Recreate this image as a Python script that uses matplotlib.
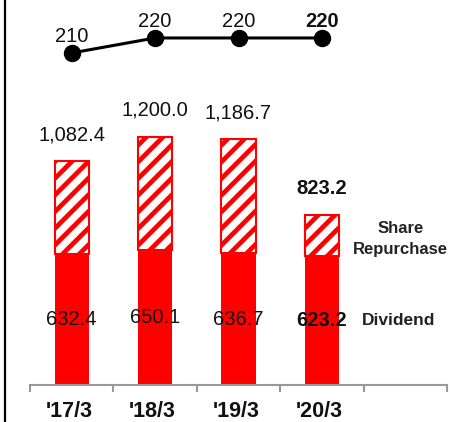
import matplotlib.pyplot as plt
import numpy as np

plt.rcParams['font.family'] = ['Liberation Sans', 'DejaVu Sans']
plt.rcParams['hatch.linewidth'] = 3.4
plt.rcParams['hatch.color'] = '#ff0000'

years = ["'17/3", "'18/3", "'19/3", "'20/3"]
dividend = [632.4, 650.1, 636.7, 623.2]
total = [1082.4, 1200.0, 1186.7, 823.2]
per_share = [210, 220, 220, 220]

repurchase = [t - d for t, d in zip(total, dividend)]
x = np.arange(len(years))
red = '#ff0000'
ink = '#111111'

fig = plt.figure(figsize=(4.51, 4.22), dpi=100)
ax = fig.add_axes([30 / 451, 37 / 422, 417 / 451, 385 / 422])

ax.bar(x, dividend, width=0.41, color=red, edgecolor=red, linewidth=0)
ax.bar(x, repurchase, width=0.41, bottom=dividend, color='white',
       edgecolor=red, hatch='//', linewidth=1.5)

ax.set_xlim(-0.5, 4.5)
ax.set_ylim(0, 1860)

# value labels
for i in range(len(years)):
    bold = 'bold' if i == len(years) - 1 else 'normal'
    ax.annotate(f'{total[i]:,.1f}', (x[i], total[i]), xytext=(0, 19),
                textcoords='offset points', ha='center', va='center',
                fontsize=14.5, color=ink, fontweight=bold)
    ax.text(x[i], dividend[i] / 2, f'{dividend[i]:.1f}', ha='center',
            va='center', fontsize=14.5, color=ink, fontweight=bold)

ax.text(3.94, dividend[3] + repurchase[3] * 0.4, 'Share\nRepurchase',
        ha='center', va='center', fontsize=12, fontweight='bold',
        color='#222222', linespacing=1.5)
ax.text(3.92, dividend[3] / 2, 'Dividend', ha='center', va='center',
        fontsize=12.5, fontweight='bold', color='#222222')

# category axis with separators
for s in ['top', 'right', 'left']:
    ax.spines[s].set_visible(False)
ax.spines['bottom'].set_color('#999999')
ax.spines['bottom'].set_linewidth(1.5)
ax.set_yticks([])
ax.set_xticks(np.arange(-0.5, 5, 1))
ax.set_xticklabels([])
ax.tick_params(axis='x', length=5, width=1.5, color='#999999', direction='out')
for i, lab in enumerate(years):
    ax.annotate(lab, (x[i], 0), xycoords=('data', 'axes fraction'),
                xytext=(-2, -23), textcoords='offset points',
                ha='center', va='baseline', fontsize=15.5,
                fontweight='bold', color=ink, annotation_clip=False)

# dividend per share line
ax2 = ax.twinx()
ax2.set_ylim(-11.3, 245.3)
ax2.plot(x, per_share, color='black', lw=2.2, marker='o', markersize=11.5)
ax2.axis('off')
for i, v in enumerate(per_share):
    bold = 'bold' if i == len(years) - 1 else 'normal'
    ax2.annotate(f'{v}', (x[i], v), xytext=(0, 11.5), textcoords='offset points',
                 ha='center', va='center', fontsize=14.5, color=ink,
                 fontweight=bold)

fig.add_artist(plt.Line2D([5 / 451, 5 / 451], [0, 1], color='black', lw=1.6))

fig.savefig('out.png', dpi=100)
